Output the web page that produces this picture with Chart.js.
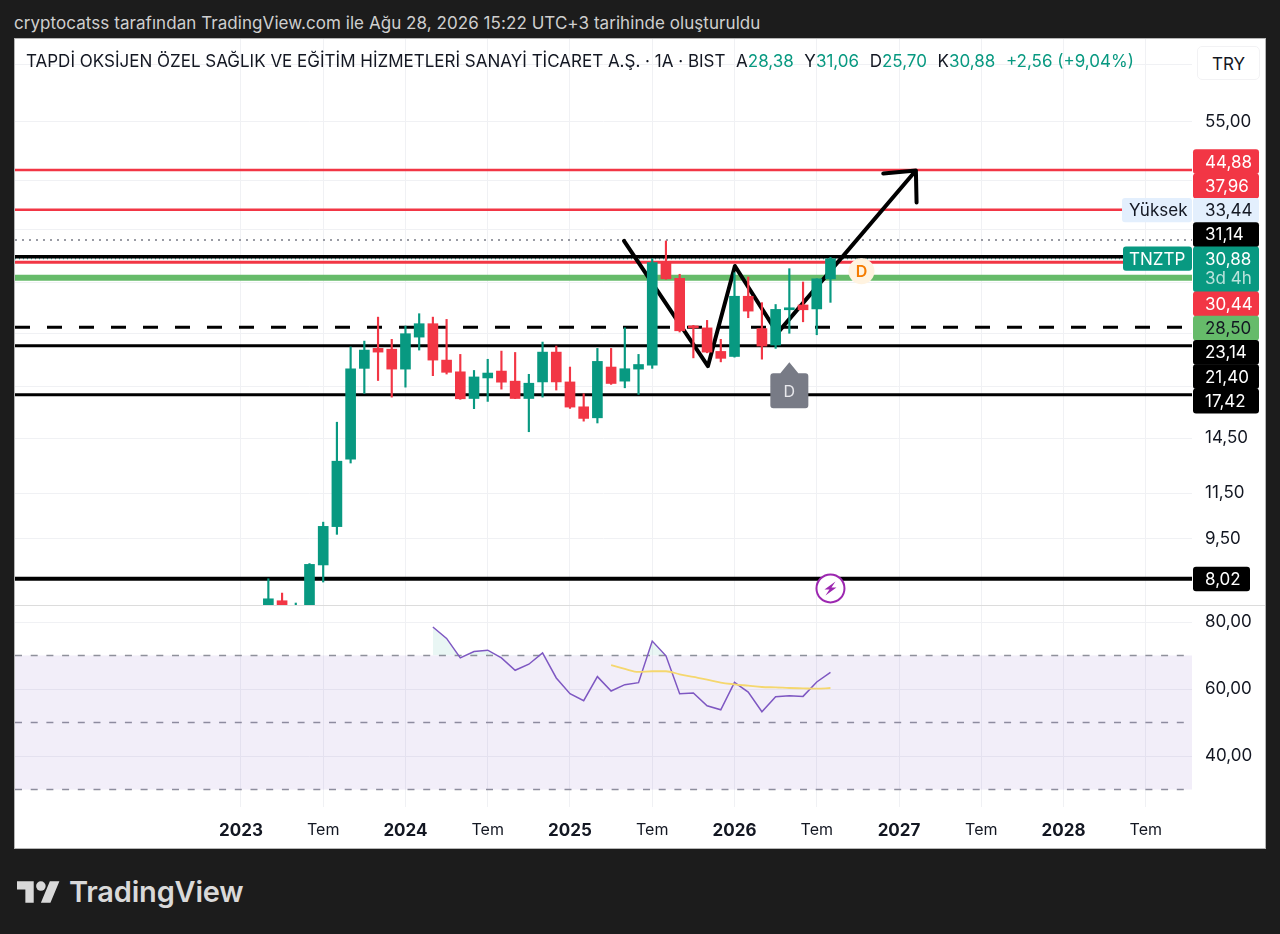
<!DOCTYPE html>
<html>
<head>
<meta charset="utf-8">
<title>TNZTP</title>
<script src="https://cdn.jsdelivr.net/npm/chart.js@4"></script>
<style>
  html, body { margin: 0; padding: 0; background: #1c1c1c; width: 1280px; height: 934px; overflow: hidden; font-family: Inter, sans-serif; }
  #credit { position: absolute; left: 14px; top: 13px; font-size: 17px; letter-spacing: 0.06px; line-height: 20px; color: #cfcfcf; white-space: nowrap; }
  #panel { position: absolute; left: 15px; top: 39px; width: 1250px; height: 809px; background: #fff; box-shadow: 0 0 0 1px #b5b5b5; }
  #priceChart { position: absolute; left: 0; top: 0; }
  #rsiChart { position: absolute; left: 0; top: 566px; }
  #sep { position: absolute; left: 0; top: 566px; width: 1250px; height: 1px; background: #dcdcdc; }
  #title { position: absolute; left: 11px; top: 12px; font-size: 17px; line-height: 20px; color: #131722; white-space: nowrap; }
  #title b { font-weight: 400; color: #089981; }
  #title i { font-style: normal; margin-left: 10.6px; }
  #unit { position: absolute; left: 1182px; top: 7px; width: 63px; height: 34px; line-height: 34px; text-align: center; font-size: 17px; color: #131722; background: #fff; border: 1px solid #f2f2f4; border-radius: 5px; box-sizing: border-box; }
  #logo { position: absolute; left: 17px; top: 878px; display: flex; align-items: center; color: #d9d9d9; }
  #logo span { margin-left: 9px; font-size: 29px; line-height: 28px; font-weight: 600; letter-spacing: -0.2px; }
</style>
</head>
<body>
<div id="credit">cryptocatss tarafından TradingView.com ile Ağu 28, 2026 15:22 UTC+3 tarihinde oluşturuldu</div>
<div id="panel">
  <canvas id="priceChart" width="1250" height="566"></canvas>
  <canvas id="rsiChart" width="1250" height="243"></canvas>
  <div id="sep"></div>
  <div id="title">TAPDİ OKSİJEN ÖZEL SAĞLIK VE EĞİTİM HİZMETLERİ SANAYİ TİCARET A.Ş. · 1A · BIST<i>A<b>28,38</b></i><i>Y<b>31,06</b></i><i>D<b>25,70</b></i><i>K<b>30,88</b></i><i><b>+2,56 (+9,04%)</b></i></div>
  <div id="unit">TRY</div>
</div>
<div id="logo">
  <svg width="43" height="22" viewBox="0 4 36 18"><path fill="#d9d9d9" d="M14 22H7V11H0V4h14v18zM28 22h-8l7.5-18h8L28 22z"/><circle fill="#d9d9d9" cx="20" cy="8" r="4"/></svg>
  <span>TradingView</span>
</div>

<script>
// ==================== DATA ====================

// months counted from Jan 2023 = 0
const months = [2, 3, 4, 5, 6, 7, 8, 9, 10, 11, 12, 13, 14, 15, 16, 17, 18, 19, 20, 21, 22, 23, 24, 25, 26, 27, 28, 29, 30, 31, 32, 33, 34, 35, 36, 37, 38, 39, 40, 41, 42, 43];
const opens = [6.90, 7.31, 7.05, 7.17, 8.50, 9.99, 13.27, 19.46, 21.17, 21.10, 19.40, 22.20, 23.49, 20.15, 19.18, 17.14, 18.69, 19.24, 18.44, 17.14, 18.38, 20.84, 18.38, 16.55, 15.80, 19.57, 18.44, 19.40, 19.73, 30.30, 28.44, 23.18, 23.08, 20.90, 20.46, 26.37, 23.01, 21.47, 24.91, 25.42, 25.00, 28.38];
const highs = [8.02, 7.55, 7.24, 8.55, 10.18, 15.51, 21.30, 21.83, 24.15, 21.99, 23.26, 24.50, 24.15, 23.92, 20.64, 19.29, 20.22, 20.93, 20.81, 18.98, 21.74, 21.38, 19.57, 17.49, 21.17, 21.17, 23.09, 20.64, 30.88, 33.29, 28.93, 23.33, 23.82, 21.99, 29.12, 28.60, 25.67, 25.47, 29.62, 28.00, 28.40, 31.06];
const lows = [6.80, 6.80, 7.00, 7.12, 7.91, 9.67, 13.06, 17.51, 18.49, 17.24, 17.98, 21.02, 18.87, 19.00, 17.08, 16.42, 16.93, 17.83, 17.13, 14.90, 17.24, 17.76, 16.44, 15.58, 15.46, 18.19, 17.93, 17.44, 19.46, 28.33, 22.68, 20.34, 20.78, 20.00, 20.40, 24.09, 20.23, 21.17, 22.56, 23.68, 22.42, 25.70];
const closes = [7.37, 6.90, 7.17, 8.52, 10.00, 13.16, 19.43, 21.02, 20.84, 19.40, 22.52, 23.49, 20.15, 19.14, 17.12, 18.77, 19.08, 18.36, 17.14, 18.28, 20.84, 18.38, 16.53, 15.76, 20.04, 18.26, 19.43, 19.78, 30.38, 28.39, 22.80, 23.08, 20.84, 20.30, 26.37, 24.77, 21.38, 24.95, 25.09, 24.91, 28.38, 30.88];

const rsiMonths = [14, 15, 16, 17, 18, 19, 20, 21, 22, 23, 24, 25, 26, 27, 28, 29, 30, 31, 32, 33, 34, 35, 36, 37, 38, 39, 40, 41, 42, 43];
const rsiValues = [78.5, 75.1, 69.3, 71.2, 71.6, 69.3, 65.6, 67.4, 70.8, 63.3, 58.6, 56.5, 63.7, 59.4, 61.3, 61.9, 74.3, 69.9, 58.6, 58.8, 55.0, 53.8, 62.0, 59.1, 53.2, 57.7, 58.0, 57.8, 62.1, 65.0];
const maMonths = [27, 28, 29, 30, 31, 32, 33, 34, 35, 36, 37, 38, 39, 40, 41, 42, 43];
const maValues = [67.1, 66.0, 65.1, 65.3, 65.3, 64.4, 63.6, 62.8, 61.9, 61.4, 61.0, 60.6, 60.5, 60.3, 60.2, 60.1, 60.3];

// hand drawn zigzag and arrow
const drawnMonths = [27.94, 34.06, 36.03, 39.13, 49.23, 46.85, 49.23, 49.28];
const drawnPrices = [33.29, 19.64, 29.96, 22.58, 44.80, 44.22, 44.80, 39.14];

// horizontal levels, top to bottom, same order as the axis tags
const levelPrices = [44.88, 37.96, 33.44, 31.14, 30.88, 30.44, 28.50, 23.14, 21.40, 17.42];
const lowLevelPrice = 8.02;

const xTickMonths = [0, 6, 12, 18, 24, 30, 36, 42, 48, 54, 60, 66];
const xTickLabels = ['2023', 'Tem', '2024', 'Tem', '2025', 'Tem', '2026', 'Tem', '2027', 'Tem', '2028', 'Tem'];
const priceGridTicks = [70, 55, 43, 35, 28, 22.5, 18, 14.5, 11.5, 9.5];
const priceLabelTicks = [55, 14.5, 11.5, 9.5];
const rsiTicks = [80, 60, 40];
const rsiBands = [70, 50, 30];

// markers on the chart
const splitMonth = 43, splitPrice = 7.7;
const dividendMonth = 45.26, dividendPrice = 29.3;
const earningsMonth = 40, earningsPrice = 18.05;

// ==================== SETUP ====================

const GREEN = '#089981';
const RED = '#f23645';
const TEXT = '#131722';
const GRID = '#f0f1f4';
const FONT = 'Inter, sans-serif';
const xMin = -16.48, xMax = 69.37;

const comma = v => v.toFixed(2).replace('.', ',');
const candleColors = months.map((m, i) => closes[i] >= opens[i] ? GREEN : RED);

function levelLine(price, color, width, dash) {
  return {
    type: 'line',
    data: [{ x: xMin, y: price }, { x: xMax, y: price }],
    borderColor: color,
    borderWidth: width,
    borderDash: dash || [],
    pointRadius: 0,
    order: 5
  };
}

function xAxis(showLabels, height) {
  return {
    type: 'linear',
    min: xMin,
    max: xMax,
    bounds: 'data',
    offset: false,
    afterBuildTicks: s => { s.ticks = xTickMonths.map(v => ({ value: v })); },
    afterFit: s => { s.height = height; s.paddingLeft = 0; s.paddingRight = 0; },
    border: { display: false },
    grid: { color: GRID, drawTicks: false, offset: false },
    ticks: {
      display: showLabels,
      autoSkip: false,
      maxRotation: 0,
      padding: 14,
      color: TEXT,
      font: ctx => ({ family: FONT, size: ctx.index % 2 === 0 ? 17 : 16, weight: ctx.index % 2 === 0 ? 700 : 400 }),
      callback: (v, i) => xTickLabels[i]
    }
  };
}

function yAxisBase() {
  return {
    position: 'right',
    bounds: 'data',
    // the tick padding would otherwise be added above and below the pane too
    afterFit: s => { s.width = 73; s.paddingTop = 0; s.paddingBottom = 0; },
    border: { display: false },
    grid: { color: GRID, drawTicks: false },
    ticks: { autoSkip: false, padding: 13, color: TEXT, font: { family: FONT, size: 17 } }
  };
}

// ==================== PRICE PANE ====================

function roundBox(ctx, x, y, w, h, r, fill) {
  ctx.fillStyle = fill;
  ctx.beginPath();
  ctx.roundRect(x, y, w, h, r);
  ctx.fill();
}

const markerPlugin = {
  id: 'markers',
  afterDatasetsDraw(chart) {
    const { ctx, scales: { x, y } } = chart;
    ctx.save();
    ctx.textAlign = 'center';
    ctx.textBaseline = 'middle';

    // split marker on the low level
    let cx = x.getPixelForValue(splitMonth), cy = y.getPixelForValue(splitPrice);
    ctx.beginPath();
    ctx.arc(cx, cy, 14, 0, Math.PI * 2);
    ctx.fillStyle = '#fff';
    ctx.fill();
    ctx.lineWidth = 2;
    ctx.strokeStyle = '#9c27b0';
    ctx.stroke();
    ctx.fillStyle = '#9c27b0';
    ctx.beginPath();
    ctx.moveTo(cx + 5, cy - 7);
    ctx.lineTo(cx - 6, cy + 1);
    ctx.lineTo(cx - 1, cy + 1);
    ctx.lineTo(cx - 5, cy + 7);
    ctx.lineTo(cx + 6, cy - 1);
    ctx.lineTo(cx + 1, cy - 1);
    ctx.closePath();
    ctx.fill();

    // dividend marker
    cx = x.getPixelForValue(dividendMonth);
    cy = y.getPixelForValue(dividendPrice);
    ctx.beginPath();
    ctx.arc(cx, cy, 13, 0, Math.PI * 2);
    ctx.fillStyle = '#fff3e0';
    ctx.fill();
    ctx.fillStyle = '#f57c00';
    ctx.font = '600 16px ' + FONT;
    ctx.fillText('D', cx, cy + 1);

    // earnings flag
    cx = x.getPixelForValue(earningsMonth);
    cy = y.getPixelForValue(earningsPrice);
    ctx.fillStyle = '#787b86';
    ctx.beginPath();
    ctx.moveTo(cx, cy - 24);
    ctx.lineTo(cx + 9, cy - 13);
    ctx.lineTo(cx + 16, cy - 13);
    ctx.quadraticCurveTo(cx + 19, cy - 13, cx + 19, cy - 10);
    ctx.lineTo(cx + 19, cy + 19);
    ctx.quadraticCurveTo(cx + 19, cy + 22, cx + 16, cy + 22);
    ctx.lineTo(cx - 16, cy + 22);
    ctx.quadraticCurveTo(cx - 19, cy + 22, cx - 19, cy + 19);
    ctx.lineTo(cx - 19, cy - 10);
    ctx.quadraticCurveTo(cx - 19, cy - 13, cx - 16, cy - 13);
    ctx.lineTo(cx - 9, cy - 13);
    ctx.closePath();
    ctx.fill();
    ctx.fillStyle = '#e8e8ec';
    ctx.font = '400 16px ' + FONT;
    ctx.fillText('D', cx, cy + 6);
    ctx.restore();
  }
};

// price tags stacked on the right axis, like TradingView pushes them apart
const tagPlugin = {
  id: 'tags',
  afterDraw(chart) {
    const { ctx, chartArea, scales: { y } } = chart;
    const left = chartArea.right + 1, w = 66, row = 24.3;
    const fills = [RED, RED, '#e3effd', '#000', GREEN, RED, '#66bb6a', '#000', '#000', '#000'];
    const inks = ['#fff', '#fff', TEXT, '#fff', '#fff', '#fff', TEXT, '#fff', '#fff', '#fff'];
    ctx.save();
    ctx.font = '17px ' + FONT;
    ctx.textBaseline = 'middle';

    let top = 110.3;
    levelPrices.forEach((price, i) => {
      const extra = i === 4 ? row - 3.7 : 0;
      roundBox(ctx, left, top, w, row + extra + 0.5, 3, fills[i]);
      ctx.fillStyle = inks[i];
      ctx.fillText(comma(price), left + 12, top + row / 2 + 1);
      if (i === 4) {
        ctx.fillStyle = 'rgba(255,255,255,0.72)';
        ctx.fillText('3d 4h', left + 12, top + row + 8);
      }
      top += row + extra;
    });

    // name boxes beside the value column
    const yHigh = 110.3 + row * 2;
    roundBox(ctx, left - 71, yHigh, 70, row, 3, '#e3effd');
    ctx.fillStyle = TEXT;
    ctx.fillText('Yüksek', left - 64, yHigh + row / 2 + 1);
    const yName = 110.3 + row * 4;
    roundBox(ctx, left - 70, yName, 69, row, 3, GREEN);
    ctx.fillStyle = '#fff';
    ctx.fillText('TNZTP', left - 64, yName + row / 2 + 1);

    // the low level tag sits on its own price
    const yLow = y.getPixelForValue(lowLevelPrice);
    roundBox(ctx, left, yLow - 12, 57, 24.5, 3, '#000');
    ctx.fillStyle = '#fff';
    ctx.fillText(comma(lowLevelPrice), left + 12, yLow + 1);
    ctx.restore();
  }
};

const levelStyles = [
  [RED, 2.5], [RED, 2.5], ['#787b86', 1.5, [2, 5]], ['#000', 3.5], [GREEN, 1, [1, 3]],
  [RED, 3], ['#66bb6a', 6], ['#000', 3, [15, 17]], ['#000', 3], ['#000', 3]
];

new Chart(document.getElementById('priceChart'), {
  data: {
    datasets: [
      ...levelPrices.map((p, i) => levelLine(p, levelStyles[i][0], levelStyles[i][1], levelStyles[i][2])),
      levelLine(lowLevelPrice, '#000', 4),
      {
        type: 'line',
        data: drawnMonths.map((m, i) => ({ x: m, y: drawnPrices[i] })),
        borderColor: '#000',
        borderWidth: 4,
        borderCapStyle: 'round',
        borderJoinStyle: 'round',
        pointRadius: 0,
        order: 4
      },
      {
        type: 'bar',
        data: months.map((m, i) => ({ x: m, y: [lows[i], highs[i]] })),
        backgroundColor: candleColors,
        barThickness: 1.5,
        grouped: false,
        borderWidth: 0,
        order: 2
      },
      {
        type: 'bar',
        data: months.map((m, i) => ({ x: m, y: [opens[i], closes[i]] })),
        backgroundColor: candleColors,
        barThickness: 10,
        minBarLength: 2,
        grouped: false,
        borderWidth: 0,
        order: 1
      }
    ]
  },
  options: {
    responsive: false,
    animation: false,
    layout: { padding: 0 },
    plugins: { legend: { display: false }, tooltip: { enabled: false } },
    scales: {
      x: xAxis(false, 0),
      y: {
        ...yAxisBase(),
        type: 'logarithmic',
        min: 7.18,
        max: 77.96,
        afterBuildTicks: s => { s.ticks = priceGridTicks.map(v => ({ value: v })); },
        ticks: {
          ...yAxisBase().ticks,
          callback: v => priceLabelTicks.includes(v) ? comma(v) : ''
        }
      }
    }
  },
  plugins: [markerPlugin, tagPlugin]
});

// ==================== RSI PANE ====================

function bandLine(value, i) {
  const line = levelLine(value, '#8f919b', 1.5, [7, 8.7]);
  if (i === 0) {
    line.fill = { value: rsiBands[2] };
    line.backgroundColor = 'rgba(126, 87, 194, 0.1)';
  }
  return line;
}

new Chart(document.getElementById('rsiChart'), {
  data: {
    datasets: [
      ...rsiBands.map(bandLine),
      {
        type: 'line',
        data: rsiMonths.map((m, i) => ({ x: m, y: rsiValues[i] })),
        borderColor: '#7e57c2',
        borderWidth: 1.5,
        pointRadius: 0,
        fill: { value: rsiBands[0], above: 'rgba(8, 153, 129, 0.09)', below: 'rgba(0, 0, 0, 0)' },
        order: 2
      },
      {
        type: 'line',
        data: maMonths.map((m, i) => ({ x: m, y: maValues[i] })),
        borderColor: '#f5d76e',
        borderWidth: 1.8,
        pointRadius: 0,
        cubicInterpolationMode: 'monotone',
        order: 1
      }
    ]
  },
  options: {
    responsive: false,
    animation: false,
    layout: { padding: 0 },
    plugins: { legend: { display: false }, tooltip: { enabled: false }, filler: { propagate: false } },
    scales: {
      x: xAxis(true, 41),
      y: {
        ...yAxisBase(),
        type: 'linear',
        min: 24.78,
        max: 85.08,
        afterBuildTicks: s => { s.ticks = rsiTicks.map(v => ({ value: v })); },
        ticks: { ...yAxisBase().ticks, callback: v => comma(v) }
      }
    }
  }
});
</script>
</body>
</html>
